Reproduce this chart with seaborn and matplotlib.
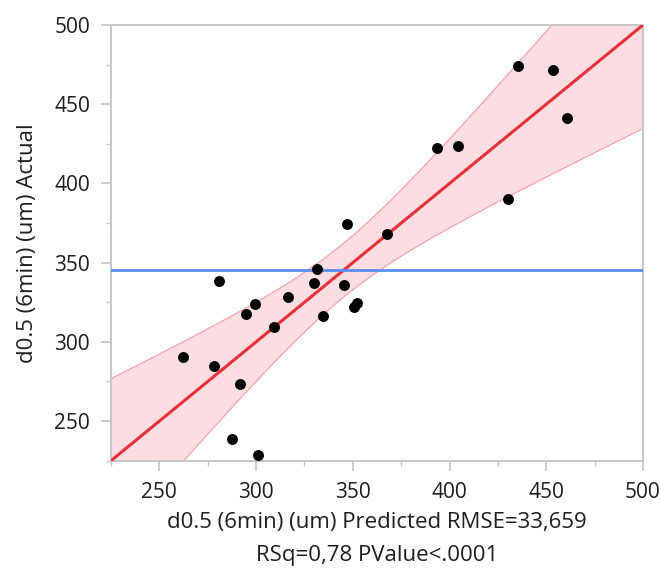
import numpy as np
import pandas as pd
import matplotlib.pyplot as plt
import seaborn as sns
from matplotlib.ticker import MultipleLocator

# actual by predicted values
predicted = [435.6, 453.4, 460.7, 393.7, 404.4, 430.1, 347.0, 367.5, 331.6, 281.0, 330.1, 345.3,
             316.3, 299.3, 294.6, 334.4, 352.0, 350.8, 309.4, 262.4, 278.4, 291.7, 287.4, 301.0]
actual = [474.4, 471.7, 441.2, 422.2, 423.7, 390.4, 374.6, 367.8, 345.8, 338.4, 337.4, 335.6,
          328.5, 323.7, 317.6, 316.5, 324.4, 322.2, 309.6, 290.5, 284.8, 273.4, 238.5, 228.3]

rmse = 33.659
rsq = 0.78
pvalue_text = "<.0001"

# confidence curve shape (half width at the mean, growth with distance)
band_h0 = 17.0
band_slope = 0.166

lims = (225, 500)
ticks = [250, 300, 350, 400, 450, 500]

df = pd.DataFrame({'Predicted': predicted, 'Actual': actual})

sns.set_theme(style='white')
plt.rcParams['font.family'] = ['Open Sans', 'DejaVu Sans']

fig = plt.figure(figsize=(6.6, 5.71), dpi=100)
ax = fig.add_axes([111 / 660, 1 - 460.7 / 571, 532 / 660, 435.7 / 571])

center = df['Actual'].mean()
xs = np.linspace(lims[0], lims[1], 300)
half = np.sqrt(band_h0 ** 2 + band_slope * (xs - center) ** 2)
ax.fill_between(xs, xs - half, xs + half, color='#fcdde1', lw=0, zorder=1)
ax.plot(xs, xs + half, color='#f6a3ab', lw=0.9, zorder=2)
ax.plot(xs, xs - half, color='#f6a3ab', lw=0.9, zorder=2)

ax.plot(lims, lims, color='#e8303b', lw=2.2, zorder=3)
ax.axhline(center, color='#5b8def', lw=2.0, zorder=3)

sns.scatterplot(data=df, x='Predicted', y='Actual', color='black', s=62,
                linewidth=0, zorder=5, ax=ax, legend=False)

ax.set_xlim(lims)
ax.set_ylim(lims)
ax.set_xticks(ticks)
ax.set_yticks(ticks)
ax.xaxis.set_minor_locator(MultipleLocator(25))
ax.yaxis.set_minor_locator(MultipleLocator(25))

for s in ax.spines.values():
    s.set_color('#c8c8c8')
    s.set_linewidth(1.5)

ax.tick_params(which='major', direction='out', length=7, width=1.2, color='#c4c4c4',
               labelsize=15, labelcolor='#1e1e1e', pad=8, bottom=True, left=True)
ax.tick_params(which='minor', direction='out', length=3.5, width=1.0, color='#c4c4c4',
               bottom=True, left=True)


def comma(v, fmt):
    return format(v, fmt).replace('.', ',')


ax.set_xlabel(f"d0.5 (6min) (um) Predicted RMSE={comma(rmse, '.3f')}\n"
              f"RSq={comma(rsq, '.2f')} PValue{pvalue_text}",
              fontsize=16, color='#1e1e1e', linespacing=1.75, labelpad=7)
ax.set_ylabel("d0.5 (6min) (um) Actual", fontsize=16, color='#1e1e1e', labelpad=12)

fig.savefig('out.png', dpi=100)
